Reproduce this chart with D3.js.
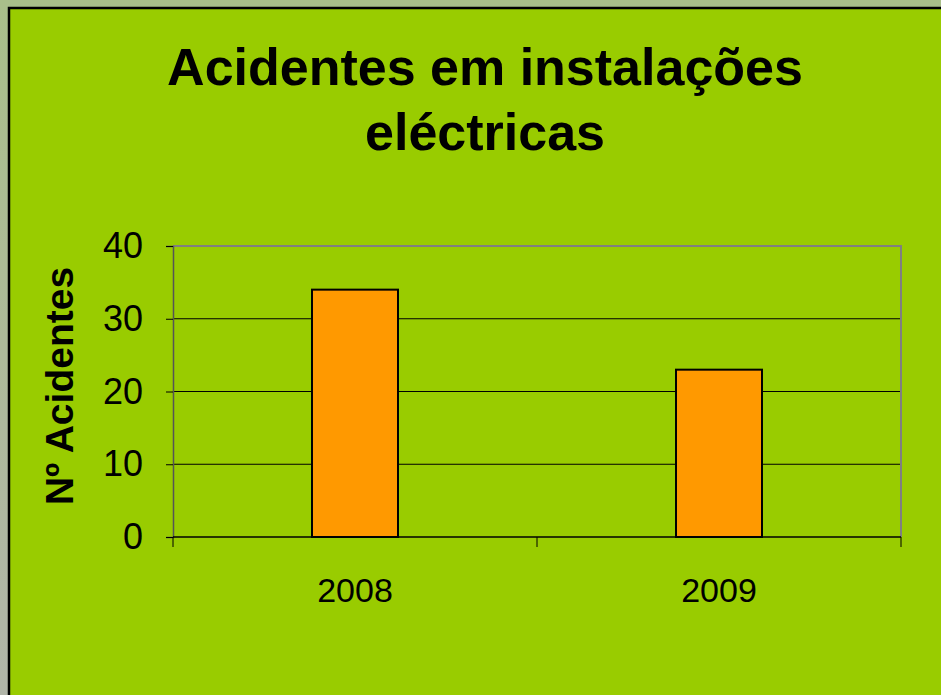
<!DOCTYPE html>
<html>
<head>
<meta charset="utf-8">
<script src="https://cdn.jsdelivr.net/npm/d3@7"></script>
<style>
  html, body { margin: 0; padding: 0; overflow: hidden; }
  body { width: 941px; height: 695px; }
  text { font-family: "Liberation Sans", Arial, sans-serif; }
</style>
</head>
<body>
<div id="chart"></div>
<script>
// Data
const years = ["2008", "2009"];
const accidents = [34, 23];
const yTicks = [0, 10, 20, 30, 40];
const titleLines = ["Acidentes em instalações", "eléctricas"];
const yLabel = "Nº Acidentes";

const W = 941, H = 695;
const plot = { left: 173, right: 901, top: 246, bottom: 537 };

const svg = d3.select("#chart").append("svg")
    .attr("width", W)
    .attr("height", H);

// outer background (slide)
const defs = svg.append("defs");
const grad = defs.append("linearGradient")
    .attr("id", "bg").attr("x1", 0).attr("y1", 0).attr("x2", 0).attr("y2", 1);
grad.append("stop").attr("offset", "0%").attr("stop-color", "#a9bf8a");
grad.append("stop").attr("offset", "100%").attr("stop-color", "#b1b5a9");
svg.append("rect").attr("width", W).attr("height", H).attr("fill", "url(#bg)");

// chart area
svg.append("rect")
    .attr("x", 9).attr("y", 8)
    .attr("width", W).attr("height", H)
    .attr("fill", "#99cc00")
    .attr("stroke", "#000")
    .attr("stroke-width", 2.5);

// title
svg.append("g").selectAll("text")
    .data(titleLines)
    .enter().append("text")
    .attr("x", 485)
    .attr("y", (d, i) => 85 + i * 65)
    .attr("text-anchor", "middle")
    .attr("font-size", 52)
    .attr("font-weight", "bold")
    .attr("fill", "#000")
    .text(d => d);

// scales
const x = d3.scaleBand()
    .domain(years)
    .range([plot.left, plot.right])
    .paddingInner(0)
    .paddingOuter(0);

const y = d3.scaleLinear()
    .domain([0, 40])
    .range([plot.bottom, plot.top]);

// gridlines
svg.append("g").selectAll("line")
    .data(yTicks.filter(d => d > 0 && d < 40))
    .enter().append("line")
    .attr("x1", plot.left).attr("x2", plot.right)
    .attr("y1", d => y(d)).attr("y2", d => y(d))
    .attr("stroke", "#000")
    .attr("stroke-width", 1);

// plot border (top & right gray)
svg.append("path")
    .attr("d", `M${plot.left},${plot.top}H${plot.right}V${plot.bottom}`)
    .attr("fill", "none")
    .attr("stroke", "#808080")
    .attr("stroke-width", 2);

// bars
const barW = 86;
svg.append("g").selectAll("rect")
    .data(accidents)
    .enter().append("rect")
    .attr("x", (d, i) => x(years[i]) + x.bandwidth() / 2 - barW / 2)
    .attr("y", d => y(d))
    .attr("width", barW)
    .attr("height", d => y(0) - y(d))
    .attr("fill", "#ff9900")
    .attr("stroke", "#000")
    .attr("stroke-width", 2);

// y axis
const yAxis = svg.append("g")
    .attr("transform", `translate(${plot.left},0)`)
    .call(d3.axisLeft(y).tickValues(yTicks).tickSize(7).tickPadding(23));
yAxis.select(".domain").attr("stroke", "#555").attr("stroke-width", 1.5);
yAxis.selectAll(".tick line").attr("stroke", "#000");
yAxis.selectAll("text")
    .attr("font-size", 36)
    .attr("fill", "#000")
    .style("font-family", "'Liberation Sans', Arial, sans-serif");

// x axis
const xAxis = svg.append("g")
    .attr("transform", `translate(0,${plot.bottom})`)
    .call(d3.axisBottom(x).tickSize(0).tickPadding(41));
xAxis.select(".domain").remove();
xAxis.selectAll("text")
    .attr("font-size", 34)
    .attr("fill", "#000")
    .style("font-family", "'Liberation Sans', Arial, sans-serif");

svg.append("line")
    .attr("x1", plot.left).attr("x2", plot.right)
    .attr("y1", plot.bottom).attr("y2", plot.bottom)
    .attr("stroke", "#000").attr("stroke-width", 1.5);

// x category separators
svg.append("g").selectAll("line")
    .data([plot.left, x(years[1]), plot.right])
    .enter().append("line")
    .attr("x1", d => d).attr("x2", d => d)
    .attr("y1", plot.bottom).attr("y2", plot.bottom + 10)
    .attr("stroke", "#000").attr("stroke-width", 1);

// y label
svg.append("text")
    .attr("transform", "translate(73,386) rotate(-90)")
    .attr("text-anchor", "middle")
    .attr("font-size", 39)
    .attr("font-weight", "bold")
    .attr("fill", "#000")
    .text(yLabel);
</script>
</body>
</html>
